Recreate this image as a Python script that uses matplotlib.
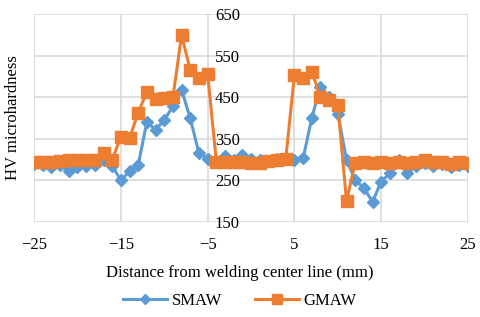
import matplotlib
matplotlib.use("Agg")
from matplotlib import pyplot as plt

# Distance from welding center line (mm)
distance = list(range(-25, 26))

smaw = [290, 288, 283, 287, 272, 283, 285, 288, 298, 285,
        250, 272, 287, 391, 371, 395, 428, 467, 399, 315,
        302, 296, 308, 298, 310, 302, 300, 296, 302, 304,
        300, 303, 400, 475, 450, 410, 300, 250, 232, 198,
        247, 267, 300, 268, 285, 292, 284, 290, 283, 288, 285]

gmaw = [295, 295, 295, 297, 298, 298, 300, 300, 315, 299,
        355, 351, 413, 463, 445, 447, 450, 599, 515, 495,
        506, 295, 295, 295, 294, 292, 292, 296, 298, 302,
        503, 495, 511, 451, 443, 431, 200, 292, 293, 292,
        293, 292, 293, 292, 293, 300, 295, 293, 290, 293, 292]

x_ticks = [-25, -15, -5, 5, 15, 25]
y_ticks = [150, 250, 350, 450, 550, 650]

plt.rcParams['font.family'] = ['Liberation Serif', 'DejaVu Serif']

fig = plt.figure(figsize=(4.8, 3.17), dpi=100)
ax = fig.add_axes([0.071, 0.30, 0.904, 0.656])

ax.plot(distance, smaw, color='#5B9BD5', lw=2.2, marker='D', ms=6,
        label='SMAW', zorder=3)
ax.plot(distance, gmaw, color='#ED7D31', lw=2.2, marker='s', ms=8.5,
        label='GMAW', zorder=4)

ax.set_xlim(-25, 25)
ax.set_ylim(150, 650)
ax.set_xticks(x_ticks)
ax.set_yticks(y_ticks)
ax.grid(True, color='#d9d9d9', lw=1.2, zorder=0)
ax.set_axisbelow(True)

for s in ['top', 'right', 'bottom']:
    ax.spines[s].set_visible(False)
# value axis crosses at x = 0, as in the original chart
ax.spines['left'].set_position(('data', 0))
ax.spines['left'].set_visible(False)
ax.tick_params(axis='both', length=0, labelsize=12)
ax.tick_params(axis='y', pad=8)
ax.tick_params(axis='x', pad=11)

fig.text(0.028, 0.63, 'HV microhardness', rotation=90, ha='center',
         va='center', fontsize=12)
fig.text(0.5, 0.14, 'Distance from welding center line (mm)',
         ha='center', va='center', fontsize=12)

ax.legend(loc='center', bbox_to_anchor=(0.5, 0.052),
          bbox_transform=fig.transFigure, ncol=2, frameon=False,
          fontsize=12, handlelength=2.6, columnspacing=2.0,
          handletextpad=0.3, markerscale=0.8)

fig.savefig('out.png', dpi=100)
